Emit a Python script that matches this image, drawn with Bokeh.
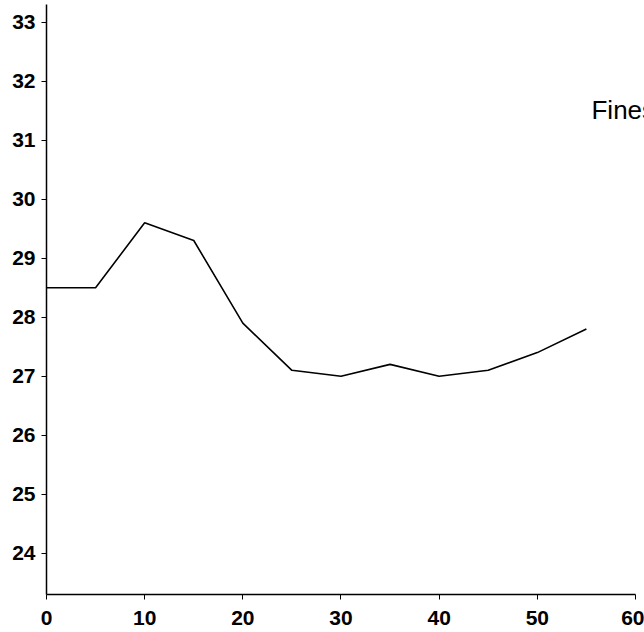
from bokeh.plotting import figure
from bokeh.models import FixedTicker, Range1d, Label
from bokeh.embed import file_html
from bokeh.resources import INLINE

time_x = [0, 5, 10, 15, 20, 25, 30, 35, 40, 45, 50, 55]
fines_y = [28.5, 28.5, 29.6, 29.3, 27.9, 27.1, 27.0, 27.2, 27.0, 27.1, 27.4, 27.8]
x_ticks = [0, 10, 20, 30, 40, 50, 60]
y_ticks = [24, 25, 26, 27, 28, 29, 30, 31, 32, 33]
series_label = "Fines"

p = figure(width=644, height=632, output_backend="svg", toolbar_location=None,
           x_range=Range1d(0, 60.92), y_range=Range1d(23.3, 33.3),
           min_border_left=46, min_border_right=0, min_border_top=4, min_border_bottom=38)
p.outline_line_color = None
p.grid.visible = False
p.background_fill_color = "white"

p.line(time_x, fines_y, line_color="black", line_width=1.6)

for ax, ticks in ((p.xaxis, x_ticks), (p.yaxis, y_ticks)):
    ax.ticker = FixedTicker(ticks=ticks)
    ax.axis_line_color = "black"
    ax.axis_line_width = 1.5
    ax.major_tick_line_color = "black"
    ax.major_tick_line_width = 1
    ax.major_tick_out = 5
    ax.major_tick_in = 0
    ax.minor_tick_line_color = None
    ax.major_label_text_font = "Liberation Sans"
    ax.major_label_text_font_style = "bold"
    ax.major_label_text_font_size = "21px"
    ax.major_label_text_color = "black"
    ax.major_label_standoff = 6

p.xaxis.bounds = (0, 60)
p.xaxis.major_label_standoff = 11

lbl = Label(x=55.52, y=31.51, text=series_label, text_font="Liberation Sans",
            text_font_size="26px", text_color="black", text_baseline="middle",
            text_align="left")
p.add_layout(lbl)

open("out.html", "w").write(file_html(p, INLINE))
